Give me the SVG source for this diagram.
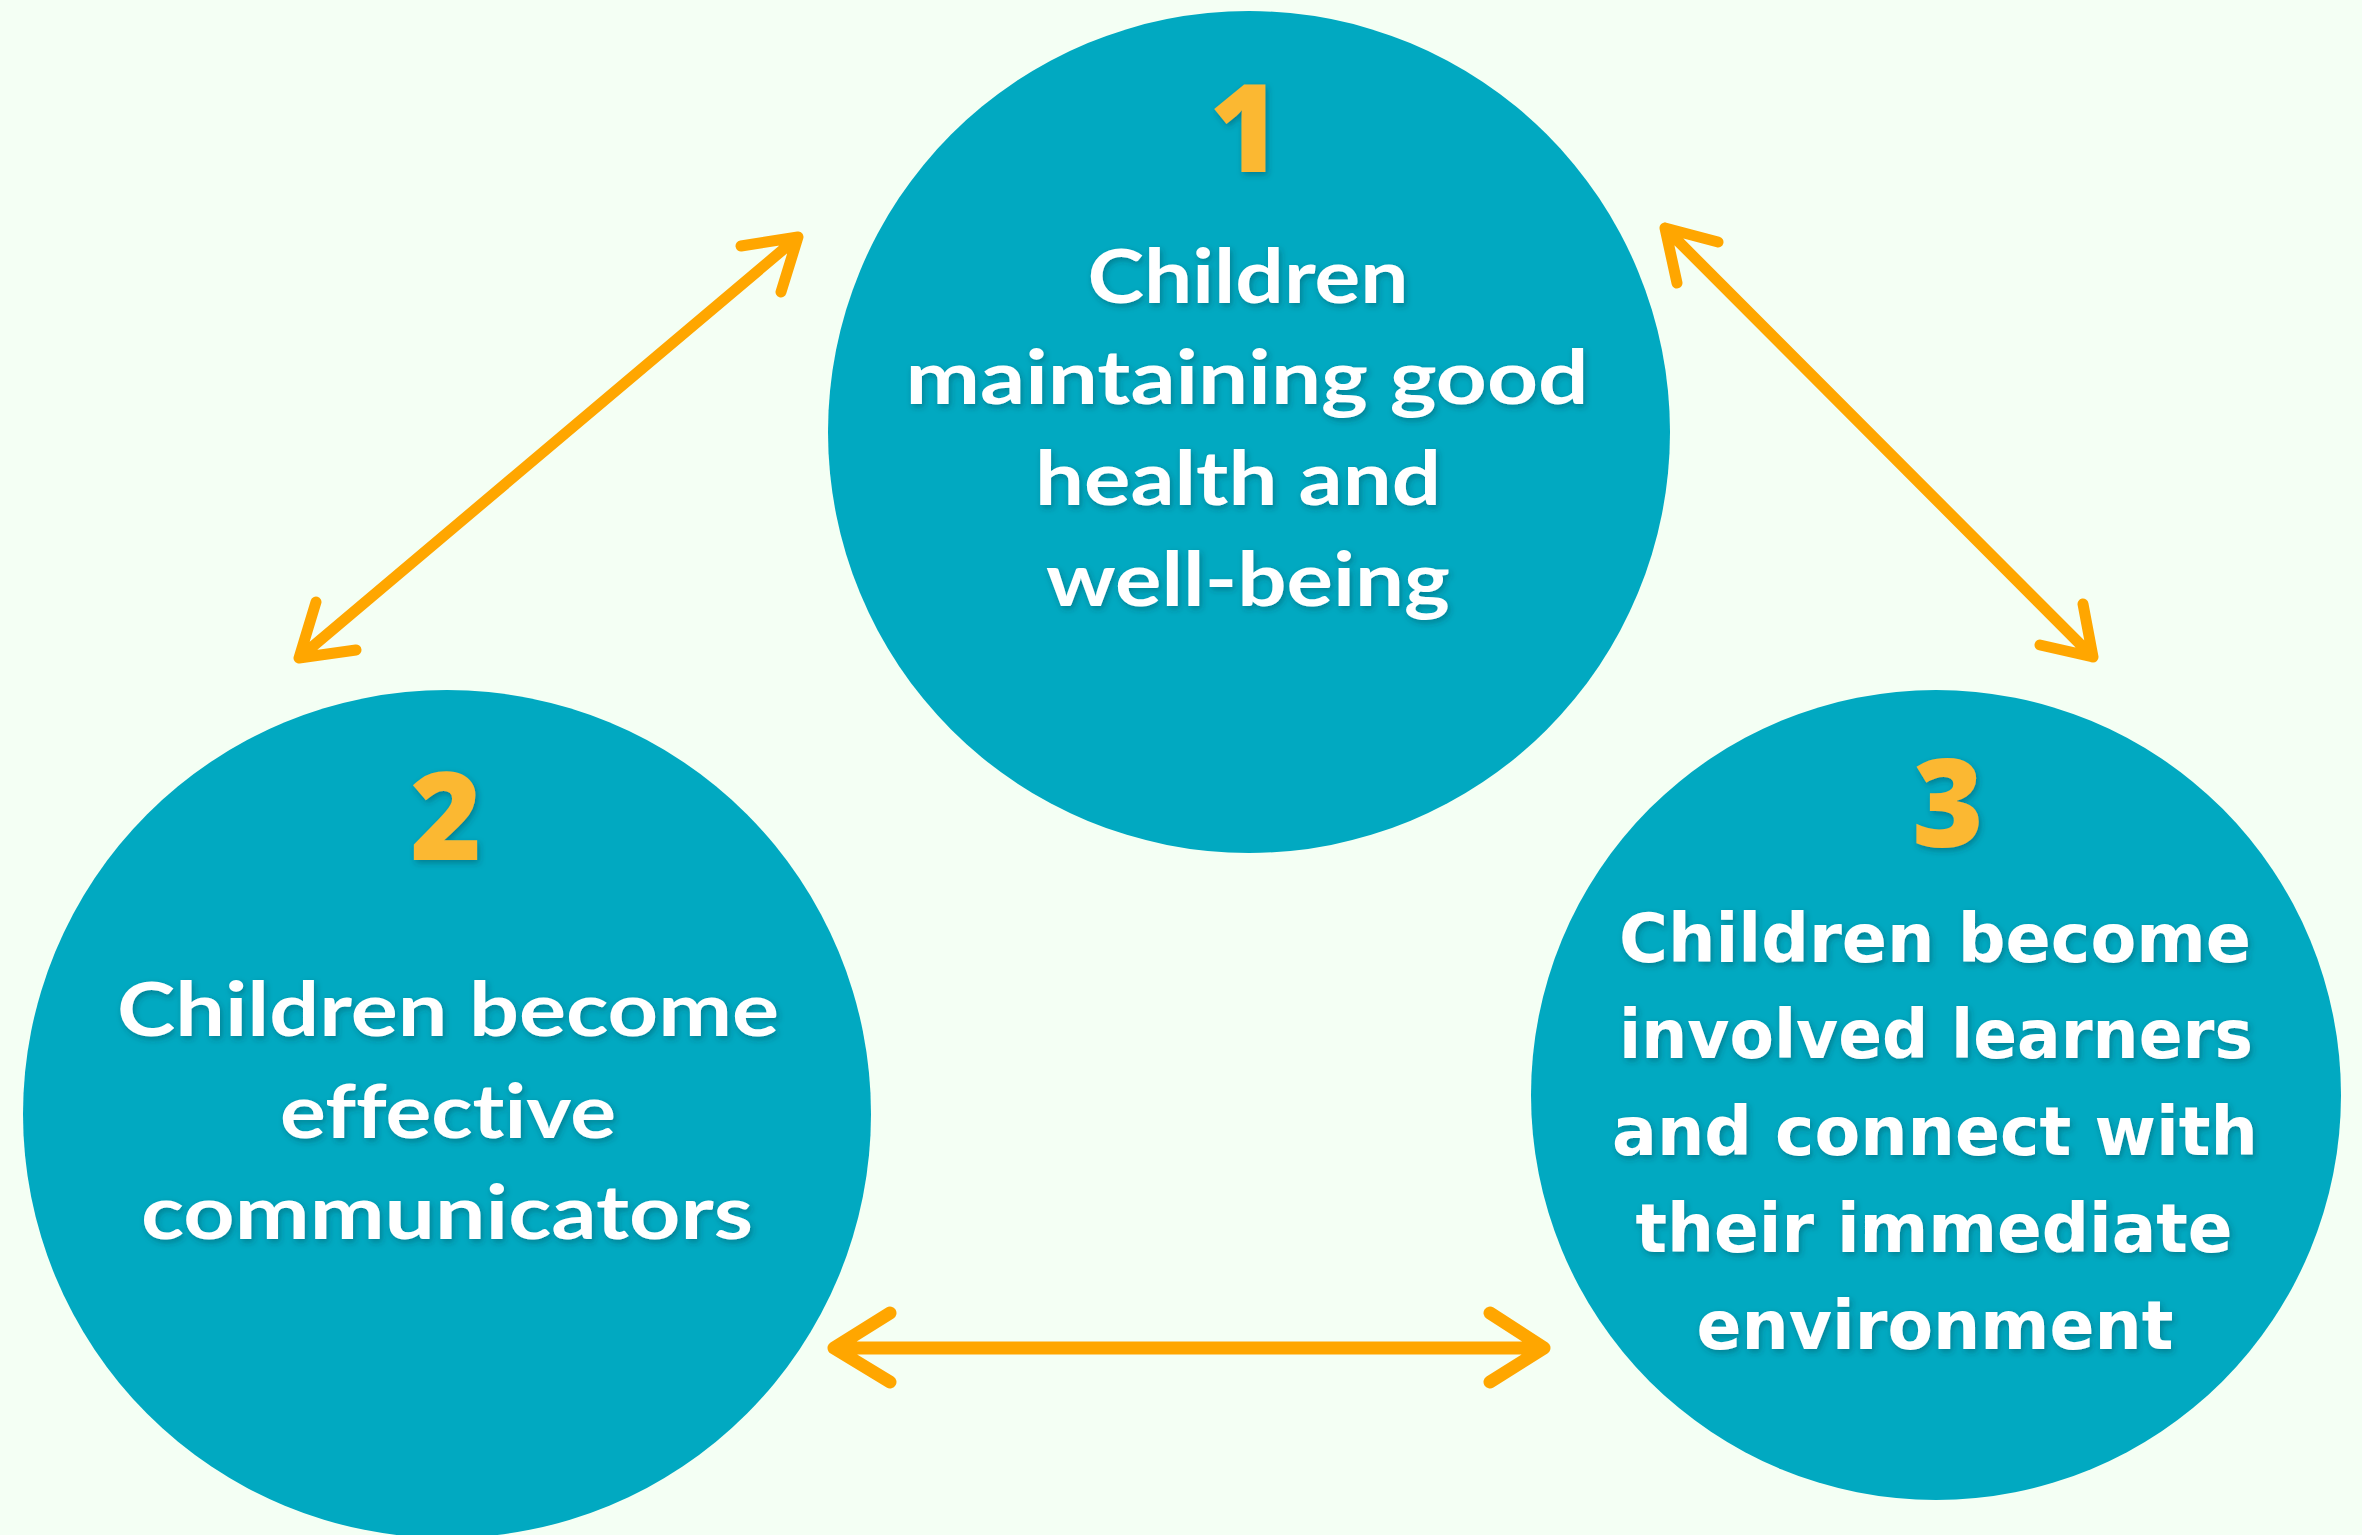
<svg xmlns="http://www.w3.org/2000/svg" width="2362" height="1535" viewBox="0 0 2362 1535">
<style>
.bg{fill:#F4FFF4}
.node{fill:#01A9C1}
.num{fill:#FBB830;font-family:"Open Sans","Liberation Sans",sans-serif;font-weight:800;font-size:122px;text-anchor:middle}
.lbl{fill:#FFFFFF;font-family:Lato,"Liberation Sans",sans-serif;font-weight:700;font-size:74px;text-anchor:middle;font-variant-ligatures:none}
.lbl3{fill:#FFFFFF;font-family:"DejaVu Sans","Liberation Sans",sans-serif;font-weight:700;font-size:68px;text-anchor:middle;font-variant-ligatures:none}
.arrow{fill:none;stroke:#FFA600;stroke-width:11;stroke-linecap:round;stroke-linejoin:round}
.arrowh{stroke-width:13}
</style>
<defs>
<filter id="sh" x="-10%" y="-20%" width="120%" height="150%">
<feDropShadow dx="2" dy="3" stdDeviation="3" flood-color="#00323a" flood-opacity="0.35"/>
</filter>
</defs>
<rect class="bg" x="0" y="0" width="2362" height="1535"/>
<g id="connectors">
<path class="arrow" d="M299 658 L798 237 M741 246 L798 237 L781 292 M316 602 L299 658 L356 650"/>
<path class="arrow" d="M1665 228 L2093 657 M1718 242 L1665 228 L1677 283 M2083 604 L2093 657 L2040 645"/>
<path class="arrow arrowh" d="M834 1348 L1544 1348 M890 1313 L834 1348 L890 1382 M1490 1313 L1544 1348 L1490 1382"/>
</g>
<g id="node1">
<circle class="node" cx="1249" cy="432" r="421"/>
<g filter="url(#sh)">
<text class="num" x="1245" y="172">1</text>
<text class="lbl" x="1248" y="303" textLength="321" lengthAdjust="spacingAndGlyphs">Children</text>
<text class="lbl" x="1247" y="404" textLength="683" lengthAdjust="spacingAndGlyphs">maintaining good</text>
<text class="lbl" x="1238" y="505" textLength="406" lengthAdjust="spacingAndGlyphs">health and</text>
<text class="lbl" x="1248" y="606" textLength="404" lengthAdjust="spacingAndGlyphs">well-being</text>
</g>
</g>
<g id="node2">
<circle class="node" cx="447" cy="1114" r="424"/>
<g filter="url(#sh)">
<text class="num" x="446" y="860">2</text>
<text class="lbl" x="448" y="1036" textLength="662" lengthAdjust="spacingAndGlyphs">Children become</text>
<text class="lbl" x="448" y="1138" textLength="336" lengthAdjust="spacingAndGlyphs">effective</text>
<text class="lbl" x="447" y="1239" textLength="612" lengthAdjust="spacingAndGlyphs">communicators</text>
</g>
</g>
<g id="node3">
<circle class="node" cx="1936" cy="1095" r="405"/>
<g filter="url(#sh)">
<text class="num" x="1948" y="847">3</text>
<text class="lbl3" x="1935" y="962" textLength="632" lengthAdjust="spacingAndGlyphs">Children become</text>
<text class="lbl3" x="1936" y="1058" textLength="634" lengthAdjust="spacingAndGlyphs">involved learners</text>
<text class="lbl3" x="1935" y="1155" textLength="646" lengthAdjust="spacingAndGlyphs">and connect with</text>
<text class="lbl3" x="1934" y="1252" textLength="597" lengthAdjust="spacingAndGlyphs">their immediate</text>
<text class="lbl3" x="1935" y="1349" textLength="477" lengthAdjust="spacingAndGlyphs">environment</text>
</g>
</g>
</svg>
